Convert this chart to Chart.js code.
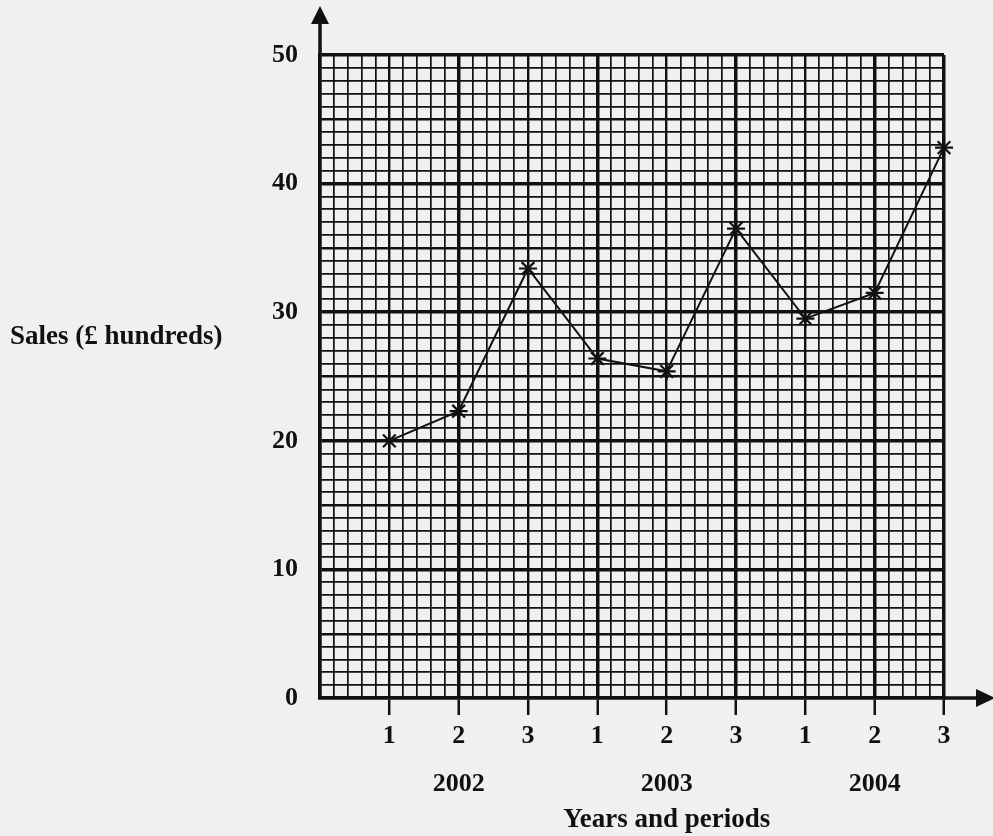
<!DOCTYPE html>
<html lang="en">
<head>
    <meta charset="UTF-8">
    <script src="https://cdn.jsdelivr.net/npm/chart.js"></script>
    <style>
        body { margin: 0; background: #f0f0f0; }
        canvas { display: block; }
    </style>
</head>
<body>
    <canvas id="chart" width="993" height="836"></canvas>

    <script>
        // values
        const periods = ['1', '2', '3', '1', '2', '3', '1', '2', '3'];
        const years = ['2002', '2003', '2004'];
        const sales = [20, 22.3, 33.4, 26.4, 25.4, 36.5, 29.5, 31.5, 42.8];
        const yLabels = [0, 10, 20, 30, 40, 50];
        const xTitle = 'Years and periods';
        const yTitle = 'Sales (\u00a3 hundreds)';

        const ink = '#111';
        const serif = '"Liberation Serif", "DejaVu Serif", serif';

        function isInt(v) { return Math.abs(v - Math.round(v)) < 1e-6; }

        // arrows on the axes and the two free-standing titles
        const decor = {
            id: 'decor',
            afterDraw(chart) {
                const { ctx, chartArea: a, scales: { x } } = chart;
                ctx.save();
                ctx.strokeStyle = ink;
                ctx.fillStyle = ink;
                ctx.lineWidth = 3.5;
                ctx.beginPath();
                ctx.moveTo(a.left, a.top);
                ctx.lineTo(a.left, 20);
                ctx.moveTo(a.right, a.bottom);
                ctx.lineTo(980, a.bottom);
                ctx.stroke();
                ctx.beginPath();
                ctx.moveTo(a.left, 6);
                ctx.lineTo(a.left - 9, 24);
                ctx.lineTo(a.left + 9, 24);
                ctx.closePath();
                ctx.fill();
                ctx.beginPath();
                ctx.moveTo(995, a.bottom);
                ctx.lineTo(976, a.bottom - 9);
                ctx.lineTo(976, a.bottom + 9);
                ctx.closePath();
                ctx.fill();

                ctx.font = 'bold 27px ' + serif;
                ctx.textBaseline = 'middle';
                ctx.textAlign = 'center';
                ctx.fillText(xTitle, x.getPixelForValue(5), 820);
                ctx.textAlign = 'left';
                ctx.fillText(yTitle, 10, 337);
                ctx.restore();
            }
        };

        const ctx = document.getElementById('chart').getContext('2d');
        const chart = new Chart(ctx, {
            type: 'line',
            data: {
                datasets: [{
                    data: sales.map((v, i) => ({ x: i + 1, y: v })),
                    borderColor: ink,
                    borderWidth: 2,
                    tension: 0,
                    pointStyle: 'star',
                    pointRadius: 9,
                    pointBorderColor: ink,
                    pointBorderWidth: 2.2,
                    clip: false
                }]
            },
            options: {
                responsive: false,
                animation: false,
                devicePixelRatio: 1,
                layout: { padding: { top: 55, right: 49, left: 0, bottom: 0 } },
                plugins: { legend: { display: false }, tooltip: { enabled: false } },
                scales: {
                    x: {
                        type: 'linear',
                        min: 0,
                        max: 9,
                        afterFit(s) { s.height = 138; },
                        border: { display: true, color: ink, width: 3.5 },
                        grid: {
                            color: ink,
                            lineWidth(c) {
                                const v = c.tick.value;
                                if (!isInt(v)) return 1.7;
                                return (Math.round(v) % 2 === 0 || Math.round(v) === 9) ? 3.5 : 2.4;
                            },
                            drawTicks: true,
                            tickLength: 17,
                            tickWidth: 2.5,
                            tickColor(c) { return isInt(c.tick.value) && c.tick.value > 0 ? ink : 'transparent'; }
                        },
                        ticks: {
                            stepSize: 0.2,
                            autoSkip: false,
                            maxRotation: 0,
                            padding: -3,
                            color: ink,
                            font: { family: serif, size: 26, weight: 'bold', lineHeight: 1.85 },
                            callback(v) {
                                if (!isInt(v)) return '';
                                const i = Math.round(v) - 1;
                                if (i < 0 || i >= periods.length) return '';
                                if (periods[i] === '2') return [periods[i], years[Math.floor(i / 3)]];
                                return periods[i];
                            }
                        }
                    },
                    y: {
                        min: 0,
                        max: 50,
                        afterFit(s) { s.width = 320; },
                        border: { display: true, color: ink, width: 3.5 },
                        grid: {
                            color: ink,
                            drawTicks: false,
                            lineWidth(c) {
                                const v = Math.round(c.tick.value);
                                if (v % 10 === 0) return 3.5;
                                if (v % 5 === 0) return 2.4;
                                return 1.7;
                            }
                        },
                        ticks: {
                            stepSize: 1,
                            autoSkip: false,
                            padding: 22,
                            color: ink,
                            font: { family: serif, size: 26, weight: 'bold' },
                            callback(v) { return yLabels.includes(v) ? String(v) : ''; }
                        }
                    }
                }
            },
            plugins: [decor]
        });
    </script>
</body>
</html>
